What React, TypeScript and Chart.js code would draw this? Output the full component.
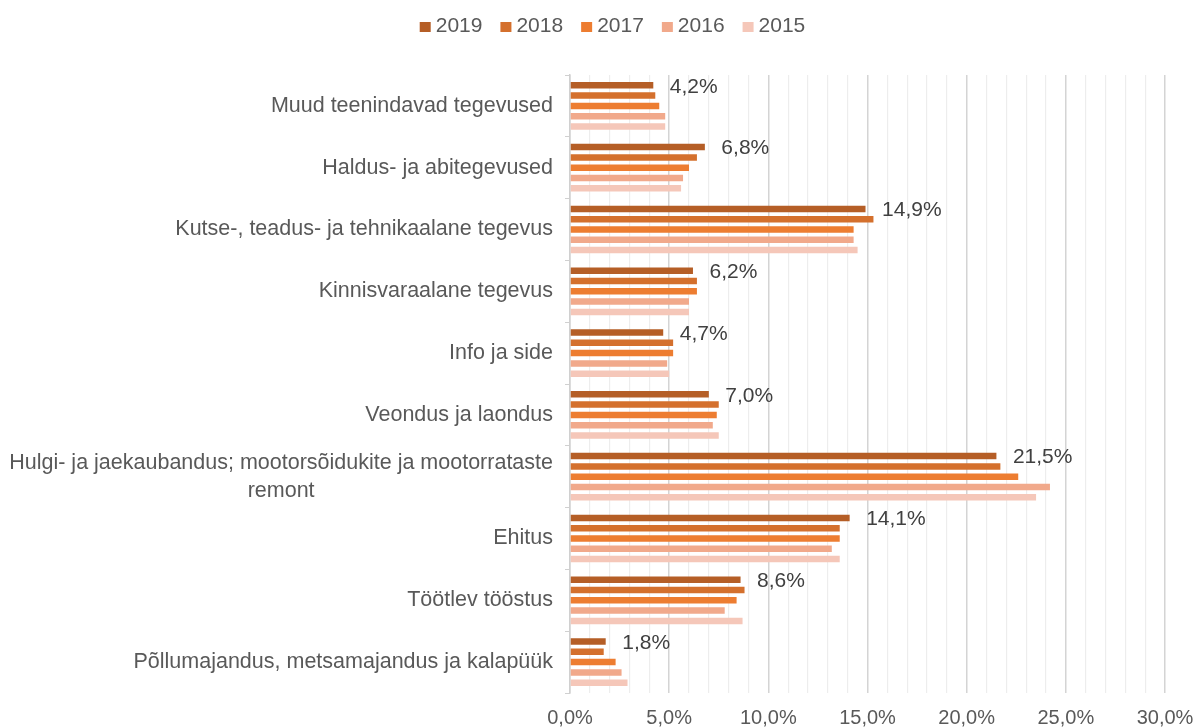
import React, { useEffect, useRef } from 'react';
import { Chart, registerables } from 'chart.js';

Chart.register(...registerables);

const FONT = '"Liberation Sans", Arial, Helvetica, sans-serif';

const categories: (string | string[])[] = [
  'Muud teenindavad tegevused',
  'Haldus- ja abitegevused',
  'Kutse-, teadus- ja tehnikaalane tegevus',
  'Kinnisvaraalane tegevus',
  'Info ja side',
  'Veondus ja laondus',
  ['Hulgi- ja jaekaubandus; mootorsõidukite ja mootorrataste', 'remont'],
  'Ehitus',
  'Töötlev tööstus',
  'Põllumajandus, metsamajandus ja kalapüük',
];

const years = ['2019', '2018', '2017', '2016', '2015'];

const values2019 = [4.2, 6.8, 14.9, 6.2, 4.7, 7.0, 21.5, 14.1, 8.6, 1.8];
const values2018 = [4.3, 6.4, 15.3, 6.4, 5.2, 7.5, 21.7, 13.6, 8.8, 1.7];
const values2017 = [4.5, 6.0, 14.3, 6.4, 5.2, 7.4, 22.6, 13.6, 8.4, 2.3];
const values2016 = [4.8, 5.7, 14.3, 6.0, 4.9, 7.2, 24.2, 13.2, 7.8, 2.6];
const values2015 = [4.8, 5.6, 14.5, 6.0, 5.0, 7.5, 23.5, 13.6, 8.7, 2.9];

const seriesValues = [values2019, values2018, values2017, values2016, values2015];
const seriesColors = ['#B55E26', '#D4702D', '#ED7D31', '#F1A98B', '#F5C7B9'];

const xMin = 0;
const xMax = 30;
const xStep = 1;
const xLabelEvery = 5;

const fmtPct = (v: number) => v.toFixed(1).replace('.', ',') + '%';

const overlayPlugin = {
  id: 'overlay',
  afterDraw(chart: any) {
    const ctx: CanvasRenderingContext2D = chart.ctx;
    const yScale = chart.scales.y;
    ctx.save();

    // Category labels (right aligned, multi-line centered as a block)
    ctx.font = `21.5px ${FONT}`;
    ctx.fillStyle = '#595959';
    ctx.textBaseline = 'middle';
    const labelRight = chart.chartArea.left - 17;
    const lineH = 28;
    categories.forEach((c, i) => {
      const cy = yScale.getPixelForValue(i);
      const lines = Array.isArray(c) ? c : [c];
      if (lines.length === 1) {
        ctx.textAlign = 'right';
        ctx.fillText(lines[0], labelRight, cy);
      } else {
        const w = Math.max(...lines.map((l) => ctx.measureText(l).width));
        ctx.textAlign = 'center';
        const cx = labelRight - w / 2;
        lines.forEach((l, k) => {
          ctx.fillText(l, cx, cy + (k - (lines.length - 1) / 2) * lineH);
        });
      }
    });

    // Data labels for the 2019 series
    const meta = chart.getDatasetMeta(0);
    ctx.font = `21px ${FONT}`;
    ctx.fillStyle = '#404040';
    ctx.textAlign = 'left';
    meta.data.forEach((bar: any, i: number) => {
      ctx.fillText(fmtPct(values2019[i]), bar.x + 16.5, bar.y + 1.5);
    });

    // Legend
    ctx.font = `21px ${FONT}`;
    const boxW = 11;
    const boxH = 10;
    const boxGap = 5;
    const itemGap = 18;
    const widths = years.map((y) => ctx.measureText(y).width);
    const total =
      widths.reduce((a, w) => a + boxW + boxGap + w, 0) + itemGap * (years.length - 1);
    let x = 612.5 - total / 2;
    years.forEach((y, i) => {
      ctx.fillStyle = seriesColors[i];
      ctx.fillRect(x, 22, boxW, boxH);
      ctx.fillStyle = '#595959';
      ctx.textAlign = 'left';
      ctx.textBaseline = 'middle';
      ctx.fillText(y, x + boxW + boxGap, 26);
      x += boxW + boxGap + widths[i] + itemGap;
    });

    ctx.restore();
  },
};

export default function App() {
  const canvasRef = useRef<HTMLCanvasElement | null>(null);

  useEffect(() => {
    document.body.style.margin = '0';
    const canvas = canvasRef.current;
    if (!canvas) return;

    const chart = new Chart(canvas, {
      type: 'bar',
      data: {
        labels: categories as any,
        datasets: years.map((y, i) => ({
          label: y,
          data: seriesValues[i],
          backgroundColor: seriesColors[i],
          borderWidth: 0,
          categoryPercentage: 0.833,
          barPercentage: 0.63,
        })),
      },
      options: {
        indexAxis: 'y',
        responsive: false,
        animation: false,
        devicePixelRatio: 1,
        layout: { padding: { top: 75, right: 32, bottom: 0, left: 0 } },
        plugins: {
          legend: { display: false },
          tooltip: { enabled: false },
          title: { display: false },
        },
        scales: {
          x: {
            type: 'linear',
            position: 'bottom',
            min: xMin,
            max: xMax,
            afterFit: (s: any) => {
              s.height = 35;
              s.paddingLeft = 0;
              s.paddingRight = 0;
            },
            ticks: {
              stepSize: xStep,
              autoSkip: false,
              maxRotation: 0,
              padding: 13,
              color: '#595959',
              font: { size: 20, family: FONT },
              callback: (v: any) => (Number(v) % xLabelEvery === 0 ? fmtPct(Number(v)) : ''),
            },
            grid: {
              drawTicks: false,
              color: (c: any) =>
                c.tick && c.tick.value % xLabelEvery === 0 ? '#D4D4D4' : '#EDEDED',
              lineWidth: (c: any) => (c.tick && c.tick.value % xLabelEvery === 0 ? 1.5 : 1.2),
            },
            border: { display: false },
          },
          y: {
            type: 'category',
            afterFit: (s: any) => {
              s.width = 570;
            },
            ticks: { display: false },
            grid: {
              drawOnChartArea: false,
              drawTicks: true,
              tickLength: 5,
              color: '#D0D0D0',
              offset: true,
            },
            border: { display: true, color: '#D0D0D0', width: 1.5 },
          },
        },
      },
      plugins: [overlayPlugin],
    });

    return () => {
      chart.destroy();
    };
  }, []);

  return (
    <div style={{ width: 1197, height: 728, position: 'relative' }}>
      <canvas ref={canvasRef} width={1197} height={728} style={{ display: 'block' }} />
    </div>
  );
}
